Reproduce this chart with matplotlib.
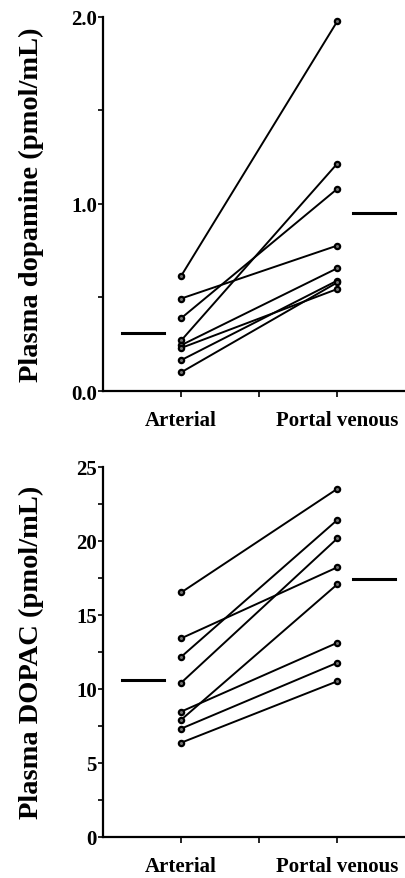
import matplotlib.pyplot as plt
import numpy as np

# values (pmol/mL)
groups = ['Arterial', 'Portal venous']

da_arterial = [0.615, 0.494, 0.389, 0.27, 0.245, 0.23, 0.165, 0.10]
da_portal = [1.975, 0.777, 1.08, 1.215, 0.656, 0.545, 0.59, 0.58]
da_means = [0.31, 0.95]

dopac_arterial = [16.5, 13.4, 12.15, 10.4, 8.45, 7.9, 7.3, 6.35]
dopac_portal = [23.5, 18.2, 21.4, 20.15, 13.1, 17.05, 11.75, 10.5]
dopac_means = [10.6, 17.4]

plt.rcParams['font.family'] = ['Liberation Serif', 'DejaVu Serif']
plt.rcParams['font.weight'] = 'bold'

fig = plt.figure(figsize=(4.06, 8.79), dpi=100)
ax1 = fig.add_axes([0.254, 0.554, 0.746, 0.426])
ax2 = fig.add_axes([0.254, 0.047, 0.746, 0.421])

def draw_panel(ax, art, por, means, ylim, major, minor, ylabel, fmt):
    x = [1, 2]
    for a, p in zip(art, por):
        ax.plot(x, [a, p], color='black', lw=1.4, marker='o', ms=3.8,
                mfc='0.45', mec='black', mew=1.6, zorder=3)
    # group means as short horizontal bars
    ax.plot([0.62, 0.89], [means[0], means[0]], color='black', lw=2.2)
    ax.plot([2.10, 2.37], [means[1], means[1]], color='black', lw=2.2)
    ax.set_xlim(0.5, 2.44)
    ax.set_ylim(ylim)
    ax.set_yticks(major)
    ax.set_yticklabels([fmt.format(v) for v in major], fontsize=15, fontweight='bold')
    ax.set_yticks(minor, minor=True)
    ax.set_xticks([1, 1.5, 2])
    ax.set_xticklabels(groups[:1] + [''] + groups[1:], fontsize=15, fontweight='bold')
    ax.tick_params(axis='x', direction='out', length=4, width=1.2, pad=10)
    ax.tick_params(axis='y', which='both', direction='out', length=3.5, width=1.2, pad=1)
    ax.set_ylabel(ylabel, fontsize=20.5, fontweight='bold')
    ax.yaxis.set_label_coords(-0.195, 0.5)
    for s in ['top', 'right']:
        ax.spines[s].set_visible(False)
    for s in ['left', 'bottom']:
        ax.spines[s].set_linewidth(1.6)

draw_panel(ax1, da_arterial, da_portal, da_means, (0, 2.0),
           [0.0, 1.0, 2.0], np.arange(0, 2.01, 0.5),
           'Plasma dopamine (pmol/mL)', '{:.1f}')
draw_panel(ax2, dopac_arterial, dopac_portal, dopac_means, (0, 25),
           [0, 5, 10, 15, 20, 25], np.arange(0, 25.1, 2.5),
           'Plasma DOPAC (pmol/mL)', '{:.0f}')

plt.savefig('out.png', dpi=100)
